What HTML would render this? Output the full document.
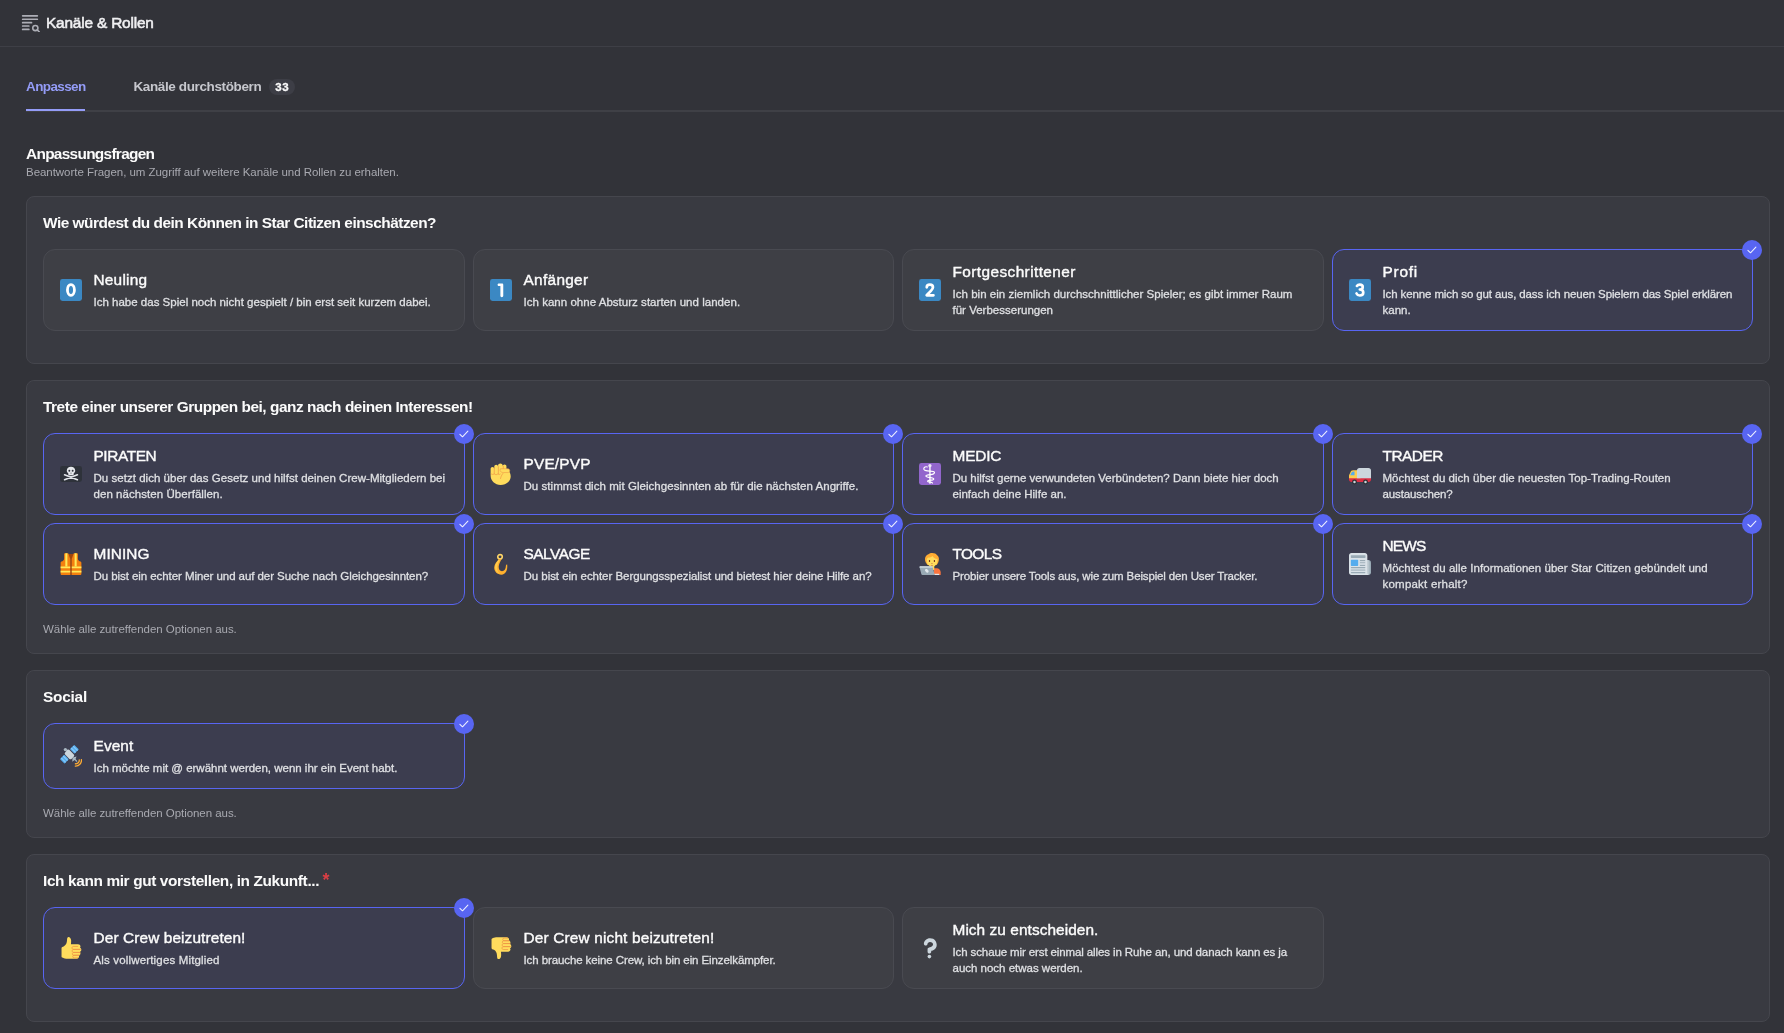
<!DOCTYPE html>
<html lang="de">
<head>
<meta charset="utf-8">
<title>Kanäle &amp; Rollen</title>
<style>
*{box-sizing:border-box;margin:0;padding:0}
html,body{width:1784px;height:1033px;overflow:hidden;background:#323339}
#app{position:absolute;left:0;top:0;width:1784px;height:1033px;overflow:hidden;will-change:transform}
body{font-family:"Liberation Sans",sans-serif;color:#fbfbfb;position:relative}
.l{display:block;white-space:nowrap}
.hdr{position:absolute;left:0;top:0;width:1784px;height:47px;border-bottom:1px solid #3e3f46}
.hdr svg{position:absolute;left:20px;top:12.35px}
.hdr .t{position:absolute;left:46px;top:12.7px;font-size:15.4px;line-height:20px;font-weight:400;color:#f0f0f2;-webkit-text-stroke:.55px #f0f0f2}
.tabs{position:absolute;left:26px;top:63px;width:1758px;height:49px;border-bottom:2px solid #3f4046}
.tab{position:absolute;top:14px;font-size:13.5px;line-height:20px;font-weight:700}
.tab.a{left:0;color:#949cf7}
.tab.b{left:107.5px;color:#c6c7cd}
.ul{position:absolute;left:0;top:46px;width:59px;height:2px;background:#949cf7}
.badge{position:absolute;left:243px;top:16px;height:16px;width:26px;border-radius:8px;background:#3d3e46;color:#fbfbfb;font-size:11.5px;font-weight:700;line-height:16px;text-align:center;letter-spacing:.7px;text-indent:.7px;-webkit-text-stroke:.3px #fbfbfb}
.h1{position:absolute;left:26px;top:144.3px;font-size:15.4px;line-height:20px;font-weight:700}
.sub{position:absolute;left:26px;top:164px;font-size:11.5px;line-height:16px;color:#a8a9b0}
.box{position:absolute;left:26px;width:1744px;background:#393a41;border:1px solid #45464d;border-radius:8px;padding:16px}
.q{font-size:15.4px;line-height:20px;font-weight:700;height:20px;position:relative}
.q .l{display:inline-block}
.req{position:absolute;left:279.5px;top:-1.5px;color:#da3e44;font-size:18px;line-height:20px;font-weight:700}
.grid{display:grid;grid-template-columns:422px 421px 422px 421px;gap:8px;margin-top:16px;margin-bottom:16px}
.card{position:relative;border:1px solid #494a51;background:#3e3f45;border-radius:12px;padding:12px 16px;display:flex;align-items:center}
.card.s{border-color:#5865f2;background:#3c3d4f}
.card .e{flex:0 0 22px;width:22px;height:22px;margin-right:12px;display:block;overflow:visible}
.card .tx{flex:1;min-width:0;margin-left:-.5px}
.card .n{position:relative;top:-.5px;font-size:15.4px;line-height:20px;color:#fbfbfb;-webkit-text-stroke:.4px #fbfbfb}
.card .d{font-size:11.5px;line-height:16px;color:#dfe0e3;margin-top:4px;-webkit-text-stroke:.28px #dfe0e3}
.chk{position:absolute;right:-10px;top:-10px;width:20px;height:20px;border-radius:50%;background:#5865f2}
.chk svg{display:block}
.help{font-size:11.5px;line-height:16px;color:#a8a9b0}
</style>
</head>
<body>
<div id="app">
<svg width="0" height="0" style="position:absolute"><defs>
<symbol id="e0" viewBox="0 0 36 36"><rect width="36" height="36" rx="4" fill="#3b88c3"/><ellipse cx="17.9" cy="17.9" rx="5.7" ry="8.8" fill="none" stroke="#fff" stroke-width="4.6"/></symbol>
<symbol id="e1" viewBox="0 0 36 36"><rect width="36" height="36" rx="4" fill="#3b88c3"/><path fill="#fff" d="M16.9 11.5h-2.4c-1.5 0-2.1-1.1-2.1-2.1 0-1.100.8-2.100 2.100-2.100h5.100c1.300 0 2.100.9 2.100 2.200v17.800c0 1.500-1 2.400-2.400 2.400s-2.300-.9-2.300-2.400V11.500z"/></symbol>
<symbol id="e2" viewBox="0 0 36 36"><rect width="36" height="36" rx="4" fill="#3b88c3"/><path fill="none" stroke="#fff" stroke-width="4.5" stroke-linecap="round" stroke-linejoin="round" d="M12.700 13.600C12.700 10.700 15 9.100 17.800 9.100c3 0 5 1.800 5 4.300 0 2.300-1.300 3.900-3.300 6l-6.900 7.300h11"/></symbol>
<symbol id="e3" viewBox="0 0 36 36"><rect width="36" height="36" rx="4" fill="#3b88c3"/><path fill="none" stroke="#fff" stroke-width="4.300" stroke-linecap="round" stroke-linejoin="round" d="M12.900 11.300c1-1.500 2.700-2.200 4.700-2.200 3 0 4.900 1.600 4.900 3.900 0 2.500-2.100 4.200-4.800 4.200 3.300 0 5.700 1.900 5.700 4.800 0 3-2.500 4.900-5.700 4.900-2.700 0-4.500-1.200-5.400-3.200"/></symbol>
<symbol id="skull" viewBox="0 0 36 36"><rect y="5" width="36" height="26" rx="4" fill="#2e323a"/><g stroke="#e2e5e9" stroke-width="2.700" stroke-linecap="round"><path d="M7.500 19.200L28.500 27.300M28.500 19.200L7.500 27.300"/></g><path fill="#e6e8ec" d="M18 6.200c-3.900 0-6.900 2.600-6.900 6.200 0 2.200 1.100 3.700 2.500 4.700v1.600c0 .8.600 1.300 1.300 1.300h6.200c.7 0 1.300-.5 1.300-1.300v-1.600c1.400-1 2.500-2.500 2.500-4.700 0-3.600-3-6.200-6.900-6.200z"/><circle cx="15.300" cy="12.600" r="1.600" fill="#2e323a"/><circle cx="20.700" cy="12.600" r="1.600" fill="#2e323a"/><path d="M18 15.300l-1 1.800h2z" fill="#2e323a"/></symbol>
<symbol id="fist" viewBox="0 0 36 36"><path fill="#ffdc5d" d="M1 9.600c0-1.700 1.300-3.100 3-3.100s3 1.400 3 3.100V5.800c0-1.700 1.300-3.100 3.100-3.100s3.100 1.400 3.100 3.100V4c0-1.700 1.700-3.100 3.800-3.100 2 0 3.700 1.400 3.700 3.100v1.500c0-1.700 1.300-3 3.100-3s3.100 1.300 3.100 3v4.200c3.800 2.200 7 6.300 7 12.100 0 7.800-6.100 14-16.600 14C8.200 35.800 1 29.200 1 20.500z"/><g fill="none" stroke="#ef9645" stroke-width="1.100" stroke-linecap="round"><path d="M7 8v9.500M13.700 6v11.500M21.800 5v4.400"/><path d="M22 16.200c-1.800 1.500-4 5-4.800 9.200M1.600 17.500c1.500 1.600 3.600 1.700 5.300.3 1.700 1.700 4.300 1.700 6 0 1.300 1.100 2.800 1.200 3.900.4"/></g><path fill="#ffdc5d" stroke="#ef9645" stroke-width=".9" d="M17 9.400h12.300c1.700 0 3 1.400 3 3.100s-1.300 3.100-3 3.100H22c-3.300 0-5.500-1.500-5.500-3.500z"/></symbol>
<symbol id="medic" viewBox="0 0 36 36"><rect width="36" height="36" rx="4" fill="#9266cc"/><path fill="#fff" d="M17.900 1.800c1.500 0 2.700 1.200 2.700 2.700 0 1-.6 1.900-1.400 2.400v27h-2.600v-27c-.8-.5-1.400-1.400-1.400-2.400 0-1.500 1.200-2.700 2.700-2.700z" opacity=".85"/><path fill="none" stroke="#fff" stroke-width="1.950" stroke-linecap="round" stroke-linejoin="round" d="M13.500 6.500c-2.500-1-5.300.2-5.600 2.600-.3 2.600 2.500 3.600 6 3.900 4.500.4 10.600-.4 11.400 2.200.7 2.300-2.600 3.400-6.500 3.700-3.800.3-7.600.8-7.500 2.400.1 1.700 3.300 2.200 6.500 2.500 3.200.3 6.300.6 6.300 2.200 0 1.400-2.700 1.900-5.300 2.100-2.600.2-4.900.5-4.800 1.600.1 1.100 2.700 1.400 4.400 1.700 1.800.3 3.400.600 3.600 1.400"/><circle cx="10.500" cy="9" r=".9" fill="#9266cc"/></symbol>
<symbol id="truck" viewBox="0 0 36 36"><path fill="#dd2e44" d="M36 27c0 2.200-1.800 4-4 4H4c-2.200 0-4-1.800-4-4v-3h36v3z"/><path fill="#ffcc4d" d="M19 13l-1-1H7.100C4 12 3 14 3 14l-3 6v5h19V13z"/><path fill="#55acee" d="M9 20H2l2-4s1-2 3-2h2v6z"/><circle fill="#292f33" cx="9" cy="31" r="4"/><circle fill="#ccd6dd" cx="9" cy="31" r="2"/><circle fill="#292f33" cx="27" cy="31" r="4"/><circle fill="#ccd6dd" cx="27" cy="31" r="2"/><path fill="#ccd6dd" d="M32 8H17c-2.200 0-4 1.800-4 4v13h23V12c0-2.200-1.800-4-4-4z"/></symbol>
<symbol id="vest" viewBox="0 0 36 36"><path fill="#a0460c" d="M13 1.500h10l-5 11z"/><path fill="#f4800f" d="M8 .5c-.8 0-1.300.5-1.300 1.300v7.500c0 2.500-2 4-4.300 4.700-.9.300-1.400.8-1.400 1.800V34c0 1.200.8 2 2 2h14.200V10.500L13.600.9C13.400.6 13.100.500 12.700.500zM28 .5c.8 0 1.300.5 1.300 1.300v7.500c0 2.500 2 4 4.300 4.700.9.300 1.400.8 1.400 1.800V34c0 1.200-.8 2-2 2H18.800V10.500L22.400.9c.2-.3.500-.4.900-.4z"/><rect x="16.700" y="10" width="2.600" height="26" fill="#b3540e"/><path fill="#ffe95a" d="M8.700.5h3.400v21.700H8.700zM23.900.5h3.400v21.700h-3.400z"/><path fill="#ffe95a" d="M1 22h15.700v3H1zM19.300 22H35v3H19.300zM1 29h15.700v3.100H1zM19.300 29H35v3.100H19.300z"/></symbol>
<symbol id="hook" viewBox="0 0 36 36"><circle cx="16.400" cy="6.300" r="3.700" fill="none" stroke="#ffd668" stroke-width="2.600"/><path fill="#ffb02e" d="M14.300 9.800l4.400.6c-1.500 3.400-4.300 7.700-4.500 12.300-.2 4.400 2 7.200 5.400 7.200 3.800 0 6.300-3.300 6.500-9.400l.4-1.300 1.600-.5c1.100 8.600-2.200 16.700-9.600 16.700-6.300 0-11.800-4.300-11.600-11.900C7.100 17.900 11.500 14 14.300 9.800z"/><path fill="#ffcc4d" d="M13.800 11.500c-3 4-5.500 7.500-5.500 12 0 5.500 3.700 9.500 8.500 10.500-3.500-1.800-5.300-5.600-5.100-10 .2-4.600 1.700-8.500 4.300-12.200z"/></symbol>
<symbol id="tech" viewBox="0 0 36 36"><path fill="#fa743e" d="M24.500 25h4.500c3.500 0 6.500 3 6.500 6.500V36h-11z"/><path fill="#ffdc5d" d="M18 19h7v8l-3.500 3-3.500-3z"/><path fill="#ffac33" d="M21.500 0c4 0 6.500 1.500 8 3.500 2.500 1.500 3.500 4.500 3 8-.4 3-1.500 6-3.500 8H14c-2.500-2.500-4.500-6-4.200-10C10 5 13 2.500 15.500 2 17 .7 19 0 21.500 0z"/><path fill="#ffdc5d" d="M12.500 12c0-2 1-3.500 2.500-4.500 2 .5 5-.5 7-2.500 1 2.500 4.500 4.500 8 5 .2.600.300 1.300.3 2 0 6-3.500 10.500-8.900 10.500S12.500 18 12.500 12z"/><ellipse cx="17.200" cy="13.200" rx="1.100" ry="1.700" fill="#662113"/><ellipse cx="25.200" cy="13.200" rx="1.100" ry="1.700" fill="#662113"/><path fill="#c1694f" d="M19.800 16.400h2.800c0 .8-.6 1.300-1.400 1.300s-1.400-.5-1.400-1.300zM19 20h4.500c-.5.900-1.300 1.300-2.200 1.300S19.500 20.900 19 20z"/><path fill="#e1e8ed" d="M25 34h8v2h-8z"/><path fill="#99aab5" d="M2.500 21.500h18c.8 0 1.400.5 1.600 1.200L25.800 36H5.500c-.8 0-1.400-.5-1.600-1.200L.9 23.400c-.3-1 .5-1.900 1.600-1.900z"/><path fill="#ccd6dd" d="M2.500 21.500h18c.8 0 1.400.5 1.600 1.200l.4 1.500H1.200l-.3-.8c-.3-1 .5-1.900 1.600-1.900z"/><path fill="#e1e8ed" d="M11.500 26.200c1.300-.5 2.500.4 2.800 1.500.6.200 1.200.8 1.400 1.700.3 1.400-.5 2.600-1.700 2.800-1.200.2-2.200-.5-2.600-1.600-.8-.2-1.400-.9-1.600-1.800-.2-1.200.5-2.300 1.700-2.600z"/></symbol>
<symbol id="news" viewBox="0 0 36 36"><path fill="#99aab5" d="M28 11.500h4c2.200 0 4 1.800 4 4V32c0 2.200-1.800 4-4 4h-6z"/><path fill="#b8c5cd" d="M28 11.500h3c1.500 0 2.500 1.800 2.500 4V32c0 2.200-1 4-2.500 4h-4z"/><path fill="#dae2e8" d="M4 0h22c2.200 0 4 1.800 4 4v28c0 2.200 1 4 2.500 4H4c-2.200 0-4-1.800-4-4V4c0-2.200 1.800-4 4-4z"/><rect x="3" y="3.500" width="24" height="4.600" rx="1" fill="#99aab5"/><rect x="3" y="11.200" width="12" height="10" rx="1" fill="#55acee"/><g fill="#99aab5"><rect x="17.500" y="11.500" width="9.300" height="1.700" rx=".8"/><rect x="17.500" y="15.100" width="9.300" height="1.700" rx=".8"/><rect x="17.500" y="19.500" width="9.300" height="1.700" rx=".8"/><rect x="3" y="23" width="23.800" height="1.800" rx=".9"/><rect x="3" y="31.200" width="23.800" height="1.800" rx=".9"/></g><rect x="3" y="26.500" width="23.800" height="3" rx="1" fill="#b5c2cb"/><g fill="#ccd6dd"><rect x="17.500" y="13.400" width="9.300" height="1.500"/><rect x="17.500" y="17" width="9.300" height="2.300"/></g></symbol>
<symbol id="sat" viewBox="0 0 36 36"><circle cx="8.800" cy="7.500" r="2.700" fill="#aab8c2"/><path fill="#aab8c2" d="M10 8.500l3-1 1 3-2 2zM21 20.500l6-1.500-1.500 4 3 3.500-1.500 1-3-3-4 3 .5-6z"/><path fill="#8899a6" d="M25 24l3.500 4-.8.800-3.700-3.800z"/><g transform="rotate(45 15.400 15.400)"><rect x="8" y="10.200" width="15" height="10.400" rx="3" fill="#ccd6dd"/></g><g transform="rotate(45 23.500 7)"><rect x="18.300" y="2" width="10.400" height="10" rx=".8" fill="#55acee"/><rect x="18.300" y="3.800" width="10.400" height="2" fill="#88c9f9"/><rect x="18.300" y="8.200" width="10.400" height="2" fill="#88c9f9"/></g><g transform="rotate(45 7.200 23.200)"><rect x="2" y="18.200" width="10.400" height="10" rx=".8" fill="#55acee"/><rect x="2" y="20" width="10.400" height="2" fill="#88c9f9"/><rect x="2" y="24.400" width="10.400" height="2" fill="#88c9f9"/></g><g fill="none" stroke="#ffac33" stroke-width="2.100" stroke-linecap="round"><path d="M31.500 24.500c.5 3.500-2.700 6.500-6.300 6.200"/><path d="M35 23.800c.8 6-4 11-10 10.600"/></g></symbol>
<symbol id="up" viewBox="0 0 36 36"><path fill="#ffdc5d" d="M14 0c2 0 4 2 4.200 5.500.1 2.500 0 4.500-.3 6.500h11.600c2.200 0 4 1.500 4 3.500 0 .9-.3 1.600-.8 2.200 1.300.6 2.200 1.800 2.200 3.300 0 1.600-1 2.900-2.400 3.400.6.600 1 1.400 1 2.400 0 1.700-1.200 3-2.800 3.400.3.500.5 1.100.5 1.700 0 2-1.700 3.600-3.900 3.600l-17.300.2c-3 0-4.500-1.300-6.500-2-1.200-.4-1-1.700-1-3.700V18.500c0-2.500 2-2.500 4-3.500 3.500-1.800 4.800-5.500 5-9.500C11.600 2 12 0 14 0z"/><g fill="none" stroke="#ef9645" stroke-width="1.300" stroke-linecap="round" stroke-linejoin="round"><path d="M29 15.400h-6.500c-2 0-2.900 1.100-2.900 2.400 0 1.400 1 2.500 2.900 2.500H33"/><path d="M33 20.300H22.500c-1.800 0-2.600 1.200-2.600 2.500s.9 2.500 2.600 2.500h10"/><path d="M32.500 25.300h-10c-1.600 0-2.300 1.100-2.300 2.300s.8 2.300 2.300 2.300h8.500"/><path d="M31 29.900h-8c-1.500 0-2.200 1-2.200 2.200 0 1.100.8 2.200 2.200 2.200h6"/></g></symbol>
<symbol id="down" viewBox="0 0 36 36"><g transform="matrix(1 0 0 -1 0 36)"><use href="#up"/></g></symbol>
<symbol id="qm" viewBox="0 0 36 36"><path fill="#ccd6dd" d="M17 27c-1.657 0-3-1.343-3-3v-4c0-1.657 1.343-3 3-3 .603-.006 6-1 6-5 0-2-2-4-5-4-2.441 0-4 2-4 3 0 1.657-1.343 3-3 3s-3-1.343-3-3c0-4.878 4.580-9 10-9 8 0 11 5.982 11 11 0 4.145-2.277 7.313-6.413 8.920-.9.351-1.790.587-2.587.747V24c0 1.657-1.343 3-3 3z"/><circle fill="#ccd6dd" cx="17" cy="32" r="3"/></symbol>

</defs></svg>
<div class="hdr">
<svg width="20" height="20" viewBox="0 0 24 24" fill="none" stroke="#adaeb6" stroke-width="2.05" stroke-linecap="round"><path d="M3.2 4.6h17.6M3.2 8.7h17.6M3.2 12.8h10.6M3.2 16.8h7.4M3.2 20.9h7.4"/><circle cx="18.4" cy="19.2" r="3.1" stroke-width="1.9"/><path d="M20.9 21.7l2.4 2.3" stroke-width="1.9"/></svg>
<div class="t"><span class="l " style="letter-spacing:-0.177px">Kanäle &amp; Rollen</span></div>
</div>
<div class="tabs">
<div class="tab a"><span class="l " style="letter-spacing:-0.619px">Anpassen</span></div>
<div class="tab b"><span class="l " style="letter-spacing:-0.38px">Kanäle durchstöbern</span></div>
<div class="badge">33</div>
<div class="ul"></div>
</div>
<div class="h1"><span class="l " style="letter-spacing:-0.694px">Anpassungsfragen</span></div>
<div class="sub"><span class="l " style="letter-spacing:-0.04px">Beantworte Fragen, um Zugriff auf weitere Kanäle und Rollen zu erhalten.</span></div>
<div class="box" style="top:196px;height:168px"><div class="q"><span class="l " style="letter-spacing:-0.486px">Wie würdest du dein Können in Star Citizen einschätzen?</span></div><div class="grid"><div class="card"><svg class="e" viewBox="0 0 36 36"><use href="#e0"/></svg><div class="tx"><div class="n"><span class="l " style="letter-spacing:0.216px">Neuling</span></div><div class="d"><span class="l " style="letter-spacing:0.005px">Ich habe das Spiel noch nicht gespielt / bin erst seit kurzem dabei.</span></div></div></div><div class="card"><svg class="e" viewBox="0 0 36 36"><use href="#e1"/></svg><div class="tx"><div class="n"><span class="l " style="letter-spacing:0.304px">Anfänger</span></div><div class="d"><span class="l " style="letter-spacing:0.028px">Ich kann ohne Absturz starten und landen.</span></div></div></div><div class="card"><svg class="e" viewBox="0 0 36 36"><use href="#e2"/></svg><div class="tx"><div class="n"><span class="l " style="letter-spacing:0.41px">Fortgeschrittener</span></div><div class="d"><span class="l " style="letter-spacing:0.027px">Ich bin ein ziemlich durchschnittlicher Spieler; es gibt immer Raum</span><span class="l " style="letter-spacing:0.007px">für Verbesserungen</span></div></div></div><div class="card s"><svg class="e" viewBox="0 0 36 36"><use href="#e3"/></svg><div class="tx"><div class="n"><span class="l " style="letter-spacing:0.761px">Profi</span></div><div class="d"><span class="l " style="letter-spacing:-0.118px">Ich kenne mich so gut aus, dass ich neuen Spielern das Spiel erklären</span><span class="l " style="letter-spacing:0.015px">kann.</span></div></div><div class="chk"><svg width="20" height="20" viewBox="0 0 20 20" fill="none" stroke="#eef0ff" stroke-width="1.05" stroke-linecap="round" stroke-linejoin="round"><path d="M5.9 10.3l2.6 2.5 5.4-5.7"/></svg></div></div></div></div>
<div class="box" style="top:380px;height:274px"><div class="q"><span class="l " style="letter-spacing:-0.458px">Trete einer unserer Gruppen bei, ganz nach deinen Interessen!</span></div><div class="grid"><div class="card s"><svg class="e" viewBox="0 0 36 36"><use href="#skull"/></svg><div class="tx"><div class="n"><span class="l " style="letter-spacing:-0.394px">PIRATEN</span></div><div class="d"><span class="l " style="letter-spacing:0.029px">Du setzt dich über das Gesetz und hilfst deinen Crew-Mitgliedern bei</span><span class="l " style="letter-spacing:0.058px">den nächsten Überfällen.</span></div></div><div class="chk"><svg width="20" height="20" viewBox="0 0 20 20" fill="none" stroke="#eef0ff" stroke-width="1.05" stroke-linecap="round" stroke-linejoin="round"><path d="M5.9 10.3l2.6 2.5 5.4-5.7"/></svg></div></div><div class="card s"><svg class="e" viewBox="0 0 36 36"><use href="#fist"/></svg><div class="tx"><div class="n"><span class="l " style="letter-spacing:0.188px">PVE/PVP</span></div><div class="d"><span class="l " style="letter-spacing:0.044px">Du stimmst dich mit Gleichgesinnten ab für die nächsten Angriffe.</span></div></div><div class="chk"><svg width="20" height="20" viewBox="0 0 20 20" fill="none" stroke="#eef0ff" stroke-width="1.05" stroke-linecap="round" stroke-linejoin="round"><path d="M5.9 10.3l2.6 2.5 5.4-5.7"/></svg></div></div><div class="card s"><svg class="e" viewBox="0 0 36 36"><use href="#medic"/></svg><div class="tx"><div class="n"><span class="l " style="letter-spacing:-0.173px">MEDIC</span></div><div class="d"><span class="l " style="letter-spacing:-0.019px">Du hilfst gerne verwundeten Verbündeten? Dann biete hier doch</span><span class="l " style="letter-spacing:0.009px">einfach deine Hilfe an.</span></div></div><div class="chk"><svg width="20" height="20" viewBox="0 0 20 20" fill="none" stroke="#eef0ff" stroke-width="1.05" stroke-linecap="round" stroke-linejoin="round"><path d="M5.9 10.3l2.6 2.5 5.4-5.7"/></svg></div></div><div class="card s"><svg class="e" viewBox="0 0 36 36"><use href="#truck"/></svg><div class="tx"><div class="n"><span class="l " style="letter-spacing:-0.496px">TRADER</span></div><div class="d"><span class="l " style="letter-spacing:0.022px">Möchtest du dich über die neuesten Top-Trading-Routen</span><span class="l " style="letter-spacing:-0.13px">austauschen?</span></div></div><div class="chk"><svg width="20" height="20" viewBox="0 0 20 20" fill="none" stroke="#eef0ff" stroke-width="1.05" stroke-linecap="round" stroke-linejoin="round"><path d="M5.9 10.3l2.6 2.5 5.4-5.7"/></svg></div></div><div class="card s"><svg class="e" viewBox="0 0 36 36"><use href="#vest"/></svg><div class="tx"><div class="n"><span class="l " style="letter-spacing:0.064px">MINING</span></div><div class="d"><span class="l " style="letter-spacing:-0.066px">Du bist ein echter Miner und auf der Suche nach Gleichgesinnten?</span></div></div><div class="chk"><svg width="20" height="20" viewBox="0 0 20 20" fill="none" stroke="#eef0ff" stroke-width="1.05" stroke-linecap="round" stroke-linejoin="round"><path d="M5.9 10.3l2.6 2.5 5.4-5.7"/></svg></div></div><div class="card s"><svg class="e" viewBox="0 0 36 36"><use href="#hook"/></svg><div class="tx"><div class="n"><span class="l " style="letter-spacing:-0.48px">SALVAGE</span></div><div class="d"><span class="l " style="letter-spacing:-0.04px">Du bist ein echter Bergungsspezialist und bietest hier deine Hilfe an?</span></div></div><div class="chk"><svg width="20" height="20" viewBox="0 0 20 20" fill="none" stroke="#eef0ff" stroke-width="1.05" stroke-linecap="round" stroke-linejoin="round"><path d="M5.9 10.3l2.6 2.5 5.4-5.7"/></svg></div></div><div class="card s"><svg class="e" viewBox="0 0 36 36"><use href="#tech"/></svg><div class="tx"><div class="n"><span class="l " style="letter-spacing:-0.623px">TOOLS</span></div><div class="d"><span class="l " style="letter-spacing:-0.137px">Probier unsere Tools aus, wie zum Beispiel den User Tracker.</span></div></div><div class="chk"><svg width="20" height="20" viewBox="0 0 20 20" fill="none" stroke="#eef0ff" stroke-width="1.05" stroke-linecap="round" stroke-linejoin="round"><path d="M5.9 10.3l2.6 2.5 5.4-5.7"/></svg></div></div><div class="card s"><svg class="e" viewBox="0 0 36 36"><use href="#news"/></svg><div class="tx"><div class="n"><span class="l " style="letter-spacing:-0.762px">NEWS</span></div><div class="d"><span class="l " style="letter-spacing:0.049px">Möchtest du alle Informationen über Star Citizen gebündelt und</span><span class="l " style="letter-spacing:0.219px">kompakt erhalt?</span></div></div><div class="chk"><svg width="20" height="20" viewBox="0 0 20 20" fill="none" stroke="#eef0ff" stroke-width="1.05" stroke-linecap="round" stroke-linejoin="round"><path d="M5.9 10.3l2.6 2.5 5.4-5.7"/></svg></div></div></div><div class="help"><span class="l " style="letter-spacing:-0.045px">Wähle alle zutreffenden Optionen aus.</span></div></div>
<div class="box" style="top:670px;height:168px"><div class="q"><span class="l " style="letter-spacing:-0.229px">Social</span></div><div class="grid"><div class="card s"><svg class="e" viewBox="0 0 36 36"><use href="#sat"/></svg><div class="tx"><div class="n"><span class="l " style="letter-spacing:0.11px">Event</span></div><div class="d"><span class="l " style="letter-spacing:-0.01px">Ich möchte mit @ erwähnt werden, wenn ihr ein Event habt.</span></div></div><div class="chk"><svg width="20" height="20" viewBox="0 0 20 20" fill="none" stroke="#eef0ff" stroke-width="1.05" stroke-linecap="round" stroke-linejoin="round"><path d="M5.9 10.3l2.6 2.5 5.4-5.7"/></svg></div></div></div><div class="help"><span class="l " style="letter-spacing:-0.045px">Wähle alle zutreffenden Optionen aus.</span></div></div>
<div class="box" style="top:854px;height:168px"><div class="q"><span class="l " style="letter-spacing:-0.369px">Ich kann mir gut vorstellen, in Zukunft...</span><span class="req">*</span></div><div class="grid"><div class="card s"><svg class="e" viewBox="0 0 36 36"><use href="#up"/></svg><div class="tx"><div class="n"><span class="l " style="letter-spacing:0.11px">Der Crew beizutreten!</span></div><div class="d"><span class="l " style="letter-spacing:0.163px">Als vollwertiges Mitglied</span></div></div><div class="chk"><svg width="20" height="20" viewBox="0 0 20 20" fill="none" stroke="#eef0ff" stroke-width="1.05" stroke-linecap="round" stroke-linejoin="round"><path d="M5.9 10.3l2.6 2.5 5.4-5.7"/></svg></div></div><div class="card"><svg class="e" viewBox="0 0 36 36"><use href="#down"/></svg><div class="tx"><div class="n"><span class="l " style="letter-spacing:0.162px">Der Crew nicht beizutreten!</span></div><div class="d"><span class="l " style="letter-spacing:-0.098px">Ich brauche keine Crew, ich bin ein Einzelkämpfer.</span></div></div></div><div class="card"><svg class="e" viewBox="0 0 36 36"><use href="#qm"/></svg><div class="tx"><div class="n"><span class="l " style="letter-spacing:0.063px">Mich zu entscheiden.</span></div><div class="d"><span class="l " style="letter-spacing:-0.114px">Ich schaue mir erst einmal alles in Ruhe an, und danach kann es ja</span><span class="l " style="letter-spacing:-0.01px">auch noch etwas werden.</span></div></div></div></div></div>
</div>
</body>
</html>
